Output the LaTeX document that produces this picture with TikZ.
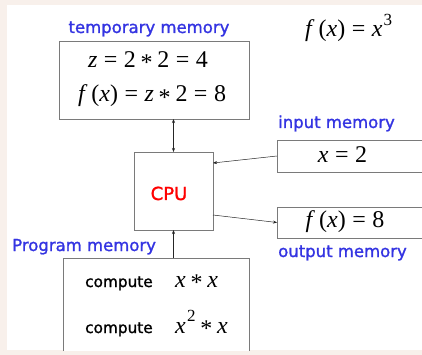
\documentclass[tikz,border=0pt]{standalone}
\usepackage{fontspec}
\setmainfont{Liberation Serif}
\newfontfamily\labelfont[FakeBold=1.3]{DejaVu Sans}
\usetikzlibrary{calc,arrows.meta}
\definecolor{pagebg}{HTML}{F8F0EB}
\definecolor{labelblue}{HTML}{3434E2}
\definecolor{boxgray}{HTML}{7A7A7A}

% equation-editor style helpers
\newcommand{\vr}[1]{\textit{#1}}
\newcommand{\eqs}{\hspace{0.27em}=\hspace{0.27em}}
\newcommand{\mult}{\hspace{0.2em}\raisebox{-0.28ex}{*}\hspace{0.2em}}
\newcommand{\pw}[1]{\hspace{0.05em}\raisebox{0.48em}{\fontsize{17}{17}\selectfont #1}}

\tikzset{
  memblock/.style={draw=boxgray, line width=0.8pt, fill=white, inner sep=0pt, outer sep=0pt},
  lab/.style={font=\labelfont\fontsize{16.5}{16.5}\selectfont, text=labelblue, inner sep=0pt},
  cpulab/.style={font=\labelfont\fontsize{18}{18}\selectfont, text=red, inner sep=0pt},
  cmp/.style={font=\labelfont\fontsize{15.3}{15.3}\selectfont, text=black, inner sep=0pt},
  mth/.style={font=\fontsize{24}{24}\selectfont, inner sep=0pt},
  link/.style={draw=black!85, line width=0.5pt, -{Stealth[length=4pt,width=3pt]}},
  biglink/.style={draw=black!85, line width=0.5pt, {Stealth[length=4pt,width=3pt]}-{Stealth[length=4pt,width=3pt]}}
}

\begin{document}
\begin{tikzpicture}[x=1pt, y=-1pt]
  \useasboundingbox (0,0) rectangle (422,355);
  \fill[pagebg] (0,0) rectangle (422,355);
  \fill[white] (7,5) rectangle (422,350);

  \begin{scope}
    \clip (7,5) rectangle (422,350);

    % memory blocks and processor
    \node[memblock, minimum width=190pt, minimum height=78pt] (temp) at (154,80) {};
    \node[memblock, minimum width=79pt, minimum height=78pt] (cpu) at (173.5,191) {};
    \node[memblock, minimum width=153pt, minimum height=32pt] (inp) at (353.5,156) {};
    \node[memblock, minimum width=153pt, minimum height=31pt] (outp) at (353.5,222.5) {};
    \node[memblock, minimum width=186pt, minimum height=102pt] (prog) at (156,309) {};

    % connections
    \draw[biglink] (cpu.north) -- (cpu.north |- temp.south);
    \draw[link] (inp.west) -- ($(cpu.north east)+(0,11)$);
    \draw[link] ($(cpu.south east)+(0,-15)$) -- (outp.west);
    \draw[link] (cpu.south |- prog.north) -- (cpu.south);

    % captions
    \node[lab, anchor=base] (tmplab) at (149,33) {temporary memory};
    \node[lab, anchor=base west] (inlab) at (278,128) {input memory};
    \node[lab, anchor=base west] (outlab) at (278,257) {output memory};
    \node[lab, anchor=base west] (proglab) at (12,251) {Program memory};
    \node[cpulab, anchor=base] (cputxt) at (169,200) {CPU};

    % formulas
    \node[mth, anchor=base west] (fdef) at (305,37) {\vr{f}\,(\vr{x})\eqs\vr{x}\pw{3}};
    \node[mth, anchor=base] (tl1) at (148,67.5) {\vr{z}\eqs 2\mult 2\eqs 4};
    \node[mth, anchor=base] (tl2) at (152,102) {\vr{f}\,(\vr{x})\eqs\vr{z}\mult 2\eqs 8};
    \node[mth, anchor=base] (xin) at (342.5,163) {\vr{x}\eqs 2};
    \node[mth, anchor=base] (fout) at (345,227) {\vr{f}\,(\vr{x})\eqs 8};

    % program steps
    \node[cmp, anchor=base west] (c1) at (85,287) {compute};
    \node[cmp, anchor=base west] (c2) at (85,333) {compute};
    \node[mth, anchor=base west] (e1) at (175,287) {\vr{x}\mult\vr{x}};
    \node[mth, anchor=base west] (e2) at (175,333) {\vr{x}\pw{2}\mult\vr{x}};
  \end{scope}
\end{tikzpicture}
\end{document}
